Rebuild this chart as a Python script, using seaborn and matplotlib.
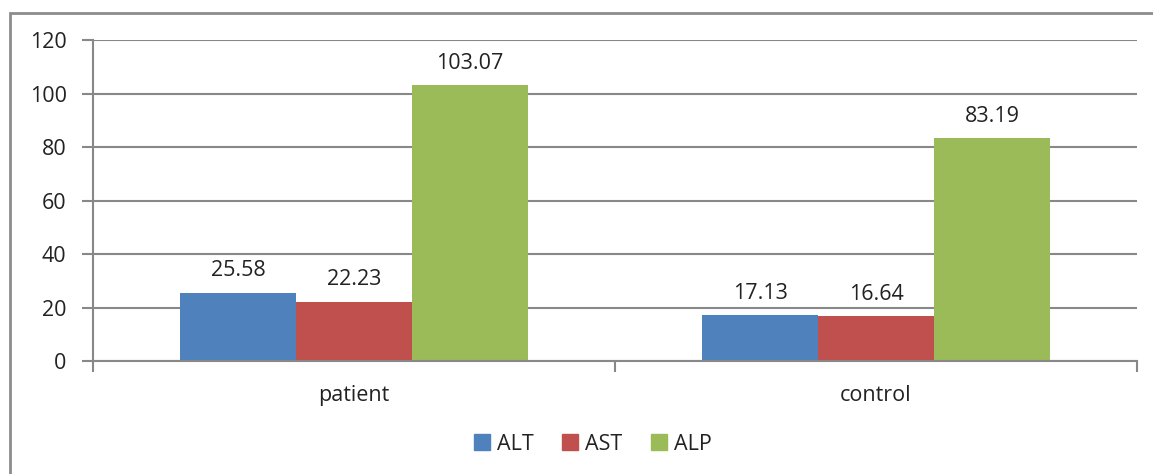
import matplotlib
matplotlib.use("Agg")
import matplotlib.pyplot as plt
from matplotlib.patches import Rectangle
from matplotlib.lines import Line2D
import seaborn as sns
import pandas as pd

groups = ["patient", "control"]
series = ["ALT", "AST", "ALP"]
alt = [25.58, 17.13]
ast = [22.23, 16.64]
alp = [103.07, 83.19]
colors = ["#4F81BD", "#C0504D", "#9BBB59"]
yticks = [0, 20, 40, 60, 80, 100, 120]

rows = []
for name, vals in zip(series, [alt, ast, alp]):
    for g, v in zip(groups, vals):
        rows.append({"group": g, "enzyme": name, "value": v})
df = pd.DataFrame(rows)

sns.set_theme(style="white")
plt.rcParams["font.family"] = ["Open Sans", "DejaVu Sans"]

fig = plt.figure(figsize=(11.53, 4.74), dpi=100)
ax = fig.add_axes([93/1153, 1-361/474, (1137-93)/1153, (361-40)/474])

sns.barplot(data=df, x="group", y="value", hue="enzyme", order=groups,
            hue_order=series, palette=colors, width=2/3, gap=0,
            errorbar=None, ax=ax, saturation=1, legend=False,
            linewidth=0, edgecolor="none")

fs = 15.5
for c in ax.containers:
    ax.bar_label(c, fmt="%.2f", padding=8, fontsize=fs, color="#222222")

grid_c = "#888888"
ax.set_ylim(0, 120)
ax.set_yticks(yticks)
ax.set_xlim(-0.5, 1.5)
ax.yaxis.grid(True, color=grid_c, linewidth=1.5)
ax.set_axisbelow(True)
ax.set_xlabel("")
ax.set_ylabel("")
for s in ["top", "right"]:
    ax.spines[s].set_visible(False)
for s in ["left", "bottom"]:
    ax.spines[s].set_color(grid_c)
    ax.spines[s].set_linewidth(1.5)
ax.tick_params(axis="y", which="major", left=True, length=8, width=1.5,
               color=grid_c, labelsize=fs, labelcolor="#222222", pad=11)
ax.tick_params(axis="x", which="major", bottom=False, labelsize=fs,
               labelcolor="#222222", pad=11)
ax.set_xticks([-0.5, 0.5, 1.5], minor=True)
ax.tick_params(axis="x", which="minor", bottom=True, length=8, width=1.5,
               color=grid_c)

# outer frame (Excel chart area)
fig.patches.append(Rectangle((10/1153, -0.1), 1.2, 0.1 + (1-13/474),
                             transform=fig.transFigure, fill=False,
                             edgecolor="#8c8c8c", linewidth=2, zorder=0))

handles = [Line2D([], [], marker="s", linestyle="none", markersize=11,
                  markerfacecolor=c, markeredgecolor=c) for c in colors]
fig.legend(handles, series, loc="center", bbox_to_anchor=(0.513, 1-444/474),
           ncol=3, frameon=False, fontsize=fs, handletextpad=0.2,
           columnspacing=1.2, handlelength=1.0, labelcolor="#222222")

fig.savefig("out.png", dpi=100)
